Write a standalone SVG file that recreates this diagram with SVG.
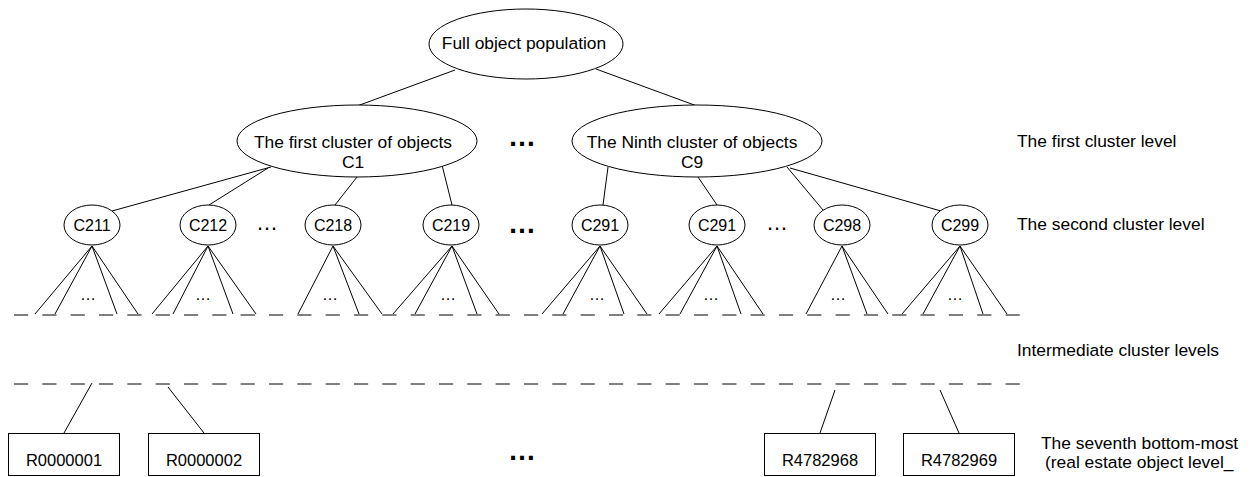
<svg xmlns="http://www.w3.org/2000/svg" width="1250" height="477" viewBox="0 0 1250 477">
<style>
.n{fill:#fff;stroke:#000;stroke-width:1}
.c line{stroke:#000;stroke-width:1}
.t{font-family:"Liberation Sans",Arial,sans-serif;font-size:17.4px;fill:#000;text-anchor:middle}
.s{font-family:"Liberation Sans",Arial,sans-serif;font-size:16px;fill:#000;text-anchor:middle}
.r{font-family:"Liberation Sans",Arial,sans-serif;font-size:16.5px;fill:#000;text-anchor:middle}
.l{font-family:"Liberation Sans",Arial,sans-serif;font-size:17.4px;fill:#000}
.d{font-family:"Liberation Sans",Arial,sans-serif;fill:#000;text-anchor:middle}
.dash{stroke:#000;stroke-width:1;stroke-dasharray:14.2 14.13;fill:none}
</style>
<g id="connectors" class="c">
<line x1="455" y1="70" x2="357" y2="106"/>
<line x1="596" y1="69" x2="697" y2="106"/>
<line x1="271" y1="167" x2="112" y2="211"/>
<line x1="268" y1="168" x2="209" y2="205"/>
<line x1="357" y1="177" x2="335" y2="205"/>
<line x1="442" y1="165" x2="452" y2="205"/>
<line x1="608" y1="167" x2="603" y2="205"/>
<line x1="698" y1="177" x2="717" y2="205"/>
<line x1="787" y1="167" x2="823" y2="210"/>
<line x1="790" y1="168" x2="941" y2="211"/>
<!-- fans -->
<line x1="92" y1="246" x2="35" y2="314"/><line x1="92" y1="246" x2="55" y2="314"/><line x1="92" y1="246" x2="117" y2="314"/><line x1="92" y1="246" x2="138" y2="314"/>
<line x1="208" y1="246" x2="152" y2="314"/><line x1="208" y1="246" x2="173" y2="314"/><line x1="208" y1="246" x2="233" y2="314"/><line x1="208" y1="246" x2="256" y2="314"/>
<line x1="333" y1="246" x2="298" y2="314"/><line x1="333" y1="246" x2="359" y2="314"/><line x1="333" y1="246" x2="382" y2="314"/>
<line x1="452" y1="246" x2="393" y2="314"/><line x1="452" y1="246" x2="415" y2="314"/><line x1="452" y1="246" x2="477" y2="314"/><line x1="452" y1="246" x2="499" y2="314"/>
<line x1="600" y1="246" x2="542" y2="314"/><line x1="600" y1="246" x2="563" y2="314"/><line x1="600" y1="246" x2="624" y2="314"/><line x1="600" y1="246" x2="647" y2="314"/>
<line x1="717" y1="246" x2="659" y2="314"/><line x1="717" y1="246" x2="680" y2="314"/><line x1="717" y1="246" x2="741" y2="314"/><line x1="717" y1="246" x2="763" y2="314"/>
<line x1="842" y1="246" x2="806" y2="314"/><line x1="842" y1="246" x2="867" y2="314"/><line x1="842" y1="246" x2="888" y2="314"/>
<line x1="960" y1="246" x2="902" y2="314"/><line x1="960" y1="246" x2="923" y2="314"/><line x1="960" y1="246" x2="983" y2="314"/><line x1="960" y1="246" x2="1007" y2="314"/>
<!-- bottom -->
<line x1="92" y1="383" x2="64" y2="433"/>
<line x1="168" y1="387" x2="204" y2="433"/>
<line x1="835" y1="390" x2="820" y2="433"/>
<line x1="940" y1="390" x2="959" y2="433"/>
</g>
<g id="levels">
<line class="dash" x1="14" y1="315" x2="1020" y2="315"/>
<line class="dash" x1="14" y1="384" x2="1020" y2="384"/>
</g>
<g id="root"><ellipse class="n" cx="526" cy="44" rx="97" ry="35"/><text class="t" x="524" y="49">Full object population</text></g>
<g id="c1"><ellipse class="n" cx="357" cy="141" rx="120" ry="36"/><text class="t" x="353" y="148">The first cluster of objects</text><text class="t" x="353" y="168">C1</text></g>
<g id="c9"><ellipse class="n" cx="697" cy="141" rx="125" ry="36"/><text class="t" x="692" y="148">The Ninth cluster of objects</text><text class="t" x="692" y="168">C9</text></g>
<g id="c211"><ellipse class="n" cx="92" cy="225" rx="28" ry="20"/><text class="s" x="92" y="231">C211</text></g>
<g id="c212"><ellipse class="n" cx="208" cy="225" rx="28" ry="20"/><text class="s" x="208" y="231">C212</text></g>
<g id="c218"><ellipse class="n" cx="333" cy="225" rx="28" ry="20"/><text class="s" x="333" y="231">C218</text></g>
<g id="c219"><ellipse class="n" cx="451" cy="225" rx="28" ry="20"/><text class="s" x="451" y="231">C219</text></g>
<g id="c291a"><ellipse class="n" cx="600" cy="225" rx="28" ry="20"/><text class="s" x="600" y="231">C291</text></g>
<g id="c291b"><ellipse class="n" cx="717" cy="225" rx="28" ry="20"/><text class="s" x="717" y="231">C291</text></g>
<g id="c298"><ellipse class="n" cx="842" cy="225" rx="28" ry="20"/><text class="s" x="842" y="231">C298</text></g>
<g id="c299"><ellipse class="n" cx="960" cy="225" rx="28" ry="20"/><text class="s" x="960" y="231">C299</text></g>
<g id="r1"><rect class="n" x="8.5" y="433.5" width="111" height="42"/><text class="r" x="64" y="466">R0000001</text></g>
<g id="r2"><rect class="n" x="148.5" y="433.5" width="111" height="42"/><text class="r" x="204" y="466">R0000002</text></g>
<g id="r3"><rect class="n" x="764.5" y="433.5" width="111" height="42"/><text class="r" x="820" y="466">R4782968</text></g>
<g id="r4"><rect class="n" x="903.5" y="433.5" width="111" height="42"/><text class="r" x="959" y="466">R4782969</text></g>
<g id="ellipses">
<text class="d" x="522" y="146" font-size="28" font-weight="bold">…</text>
<text class="d" x="522" y="233" font-size="28" font-weight="bold">…</text>
<text class="d" x="522" y="460" font-size="28" font-weight="bold">…</text>
<text class="d" x="267" y="230" font-size="22">…</text>
<text class="d" x="777" y="230" font-size="22">…</text>
<text class="d" x="88" y="300" font-size="16">…</text>
<text class="d" x="203" y="300" font-size="16">…</text>
<text class="d" x="330" y="300" font-size="16">…</text>
<text class="d" x="448" y="300" font-size="16">…</text>
<text class="d" x="597" y="300" font-size="16">…</text>
<text class="d" x="711" y="300" font-size="16">…</text>
<text class="d" x="838" y="300" font-size="16">…</text>
<text class="d" x="955" y="300" font-size="16">…</text>
</g>
<g id="labels">
<text class="l" x="1017" y="147">The first cluster level</text>
<text class="l" x="1017" y="230">The second cluster level</text>
<text class="l" x="1017" y="356">Intermediate cluster levels</text>
<text class="l" x="1041" y="449">The seventh bottom-most</text>
<text class="l" x="1045" y="468">(real estate object level_</text>
</g>
</svg>
